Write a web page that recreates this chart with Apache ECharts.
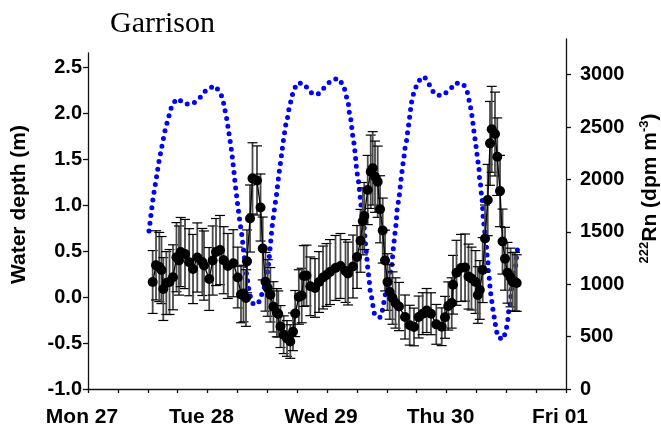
<!DOCTYPE html>
<html>
<head>
<meta charset="utf-8">
<script src="https://cdn.jsdelivr.net/npm/echarts@6/dist/echarts.min.js"></script>
<style>html,body{margin:0;padding:0;background:#fff;}#chart{width:661px;height:434px;}</style>
</head>
<body>
<div id="chart"></div>
<script>
// X axis: hours since Mon 27 00:00
const dayLabels = ['Mon 27', 'Tue 28', 'Wed 29', 'Thu 30', 'Fri 01'];
const dayHours = [0, 24, 48, 72, 96];

// Water depth (m), blue dotted line
const depthHours = [12.25,12.65,13.1,13.66,14.2,14.8,15.5,16.4,16.93,18.0,19.5,21.0,22.5,23.84,25.45,26.65,27.2,27.86,28.4,28.86,29.26,29.6,30.0,30.45,30.93,31.33,31.73,32.0,32.2,32.6,33.2,34.2,34.9,35.55,35.95,36.35,36.65,36.96,37.2,37.42,37.9,38.3,38.76,39.2,39.7,40.1,40.37,40.83,41.23,42.04,43.44,44.59,46.05,47.46,48.86,50.35,51.4,51.8,52.28,52.48,52.82,53.1,53.48,53.68,53.97,54.29,54.63,54.83,55.3,55.5,55.77,55.97,56.1,56.5,56.64,56.98,57.24,57.58,58.7,59.19,59.5,59.85,60.3,60.65,61.0,61.3,61.56,61.86,62.12,62.46,62.8,63.2,63.47,63.67,64.0,64.2,64.47,64.67,64.87,65.13,65.68,66.34,67.54,68.69,69.55,71.04,72.57,73.85,75.38,76.18,76.58,76.92,77.18,77.38,77.59,77.87,78.07,78.27,78.53,78.6,78.87,79.0,79.23,79.27,79.39,79.6,79.8,80.0,80.08,80.34,80.4,80.6,80.74,80.94,81.2,81.4,81.74,81.94,82.4,83.4,83.95,84.3,84.4,84.76,84.9,85.1,85.42,85.76,85.96,86.1,86.42];
const depthValues = [0.72,0.90,1.09,1.27,1.46,1.63,1.82,2.00,2.10,2.16,2.10,2.10,2.17,2.26,2.30,2.22,2.12,1.94,1.75,1.58,1.39,1.21,1.03,0.84,0.66,0.47,0.29,0.20,0.11,0.01,-0.08,-0.07,0.03,0.13,0.22,0.40,0.58,0.76,0.86,0.95,1.13,1.32,1.50,1.69,1.87,1.96,2.05,2.15,2.24,2.33,2.32,2.23,2.20,2.28,2.36,2.38,2.29,2.20,2.11,2.01,1.92,1.78,1.65,1.55,1.37,1.28,1.10,1.00,0.90,0.73,0.55,0.46,0.36,0.17,0.08,-0.01,-0.10,-0.20,-0.22,-0.13,-0.03,0.06,0.15,0.24,0.33,0.52,0.65,0.79,0.98,1.07,1.25,1.43,1.53,1.62,1.71,1.80,1.90,1.99,2.08,2.17,2.26,2.35,2.40,2.30,2.21,2.19,2.25,2.33,2.32,2.23,2.13,2.04,1.95,1.86,1.77,1.67,1.58,1.49,1.40,1.31,1.21,1.12,1.03,0.94,0.85,0.75,0.66,0.57,0.48,0.38,0.29,0.20,0.11,0.01,-0.08,-0.17,-0.26,-0.35,-0.44,-0.46,-0.36,-0.27,-0.18,-0.09,0.00,0.10,0.19,0.28,0.37,0.47,0.56];

// 222Rn (dpm m-3), black circles with error bars
const rnHours = [12.99,13.66,14.32,14.76,15.12,15.73,16.37,17.07,17.77,18.28,18.62,19.48,20.33,21.09,21.95,22.96,23.3,24.34,25.04,25.71,26.51,27.25,28.08,29.18,30.07,30.73,31.23,31.73,31.93,32.54,33.04,33.94,34.65,35.09,35.65,36.09,36.63,37.24,37.92,38.22,38.66,39.3,39.97,40.63,41.17,41.61,42.34,42.92,43.34,43.88,44.65,45.59,46.39,47.2,47.9,48.6,49.71,50.71,51.72,52.22,53.22,54.03,54.73,55.19,55.49,56.18,56.78,57.18,57.64,58.18,58.65,59.19,59.65,60.15,60.6,61.16,61.76,62.46,63.67,64.61,65.47,66.42,67.22,68.02,68.89,69.95,71.04,71.7,72.36,73.05,73.31,74.01,74.92,75.72,76.42,77.02,77.83,78.29,78.69,79.27,79.74,80.28,80.74,81.08,81.74,82.2,82.75,83.25,83.75,84.25,84.86,85.3,85.76,86.1];
const rnValues = [1021,1180,1164,1135,954,1011,1021,1066,1258,1226,1307,1288,1210,1145,1255,1212,1178,1050,1226,1307,1326,1229,1174,1200,1064,902,911,868,1218,1627,2010,1990,1732,1341,1023,964,899,784,728,716,596,518,482,453,546,720,878,892,1078,1083,980,964,1021,1064,1088,1116,1155,1174,1126,1102,1169,1260,1414,1600,1651,1899,2073,2106,2026,1978,1715,1512,1226,1021,926,868,821,787,687,609,592,687,719,749,718,617,594,684,792,821,995,1109,1155,1159,1073,1054,1021,897,945,1135,1436,1803,2344,2478,2433,2217,1889,1407,1243,1109,1064,1021,1024,1011];
const rnErrors = [300,330,330,320,300,300,310,310,330,330,330,330,320,330,330,320,330,300,330,320,330,320,310,320,290,270,270,270,300,320,340,330,320,300,280,270,260,240,230,220,200,180,170,160,180,220,260,260,290,290,280,280,290,300,300,310,310,310,300,300,300,300,300,320,320,330,350,350,340,340,320,310,290,270,260,250,240,230,210,190,180,200,200,210,200,190,180,200,230,240,280,310,320,320,310,300,300,270,280,310,320,340,400,410,400,370,340,310,300,290,280,280,280,270];

const depthData = depthHours.map((h, i) => [h, depthValues[i]]);
const rnData = rnHours.map((h, i) => [h, rnValues[i]]);
const errData = rnHours.map((h, i) => [h, rnValues[i], rnErrors[i]]);

const FONT = 'Liberation Sans, Arial, sans-serif';
const chart = echarts.init(document.getElementById('chart'), null, {renderer: 'canvas'});

const axisLineStyle = {color: '#111', width: 1.3};

chart.setOption({
  animation: false,
  backgroundColor: '#fff',
  title: {
    text: 'Garrison', left: 105, top: 4,
    textStyle: {fontFamily: 'Liberation Serif, Times New Roman, serif', fontSize: 30, fontWeight: 'normal', color: '#000'}
  },
  grid: [
    {left: 88, right: 95, top: 53, bottom: 45, containLabel: false, outerBoundsMode: 'none'},
    {left: 88, right: 95, top: 39, bottom: 45, containLabel: false, outerBoundsMode: 'none'}
  ],
  xAxis: [
    {
      type: 'value', gridIndex: 0, min: 0, max: 96, interval: 6,
      axisLine: {show: true, onZero: false, lineStyle: axisLineStyle},
      axisTick: {show: true, inside: false, length: 4, lineStyle: axisLineStyle},
      splitLine: {show: false},
      axisLabel: {
        customValues: dayHours, margin: 18,
        fontFamily: FONT, fontWeight: 'bold', fontSize: 21, color: '#000',
        padding: [0, 12, 0, 0],
        formatter: v => dayLabels[dayHours.indexOf(v)] || ''
      }
    },
    {
      type: 'value', gridIndex: 1, min: 0, max: 96, show: false
    }
  ],
  yAxis: [
    {
      type: 'value', gridIndex: 0, position: 'left', min: -1, max: 2.656, interval: 0.5,
      axisLine: {show: true, onZero: false, lineStyle: axisLineStyle},
      axisTick: {show: true, inside: false, length: 5, lineStyle: axisLineStyle},
      minorTick: {show: false},
      splitLine: {show: false},
      axisLabel: {
        showMaxLabel: false, margin: 6, align: 'right',
        fontFamily: FONT, fontWeight: 'bold', fontSize: 20, color: '#000',
        formatter: v => v.toFixed(1)
      },
      name: 'Water depth (m)', nameLocation: 'middle', nameGap: 58, nameRotate: 90,
      nameTextStyle: {fontFamily: FONT, fontWeight: 'bold', fontSize: 21, color: '#000', padding: [0, 0, 0, 33]}
    },
    {
      type: 'value', gridIndex: 1, position: 'right', min: 0, max: 3340, interval: 500,
      axisLine: {show: true, onZero: false, lineStyle: axisLineStyle},
      axisTick: {show: true, inside: false, length: 5, lineStyle: axisLineStyle},
      minorTick: {show: false},
      splitLine: {show: false},
      axisLabel: {
        showMaxLabel: false, margin: 14, align: 'left',
        formatter: v => '{a|' + v + '}',
        rich: {
          a: {fontFamily: FONT, fontWeight: 'bold', fontSize: 20, color: '#000', width: 46, align: 'left'}
        }
      },
      name: '{sup|222}{main|Rn (dpm m}{sup|-3}{main|)}', nameLocation: 'middle', nameGap: 72, nameRotate: 90,
      nameTextStyle: {
        padding: [0, 0, 0, 51],
        rich: {
          main: {fontFamily: FONT, fontWeight: 'bold', fontSize: 21, color: '#000', lineHeight: 24},
          sup: {fontFamily: FONT, fontWeight: 'bold', fontSize: 13, color: '#000', verticalAlign: 'top', lineHeight: 24}
        }
      }
    }
  ],
  series: [
    {
      type: 'line', xAxisIndex: 0, yAxisIndex: 0, data: depthData,
      showSymbol: false, symbol: 'none', z: 1,
      lineStyle: {color: '#0000ff', width: 5, type: [0, 7.8], cap: 'round', join: 'round'}
    },
    {
      type: 'custom', xAxisIndex: 1, yAxisIndex: 1, data: errData, z: 2,
      renderItem: function (params, api) {
        const x = api.value(0), v = api.value(1), e = api.value(2);
        const top = api.coord([x, v + e]);
        const bot = api.coord([x, v - e]);
        const hw = 5;
        return {
          type: 'group',
          children: [
            {type: 'line', shape: {x1: top[0], y1: top[1], x2: bot[0], y2: bot[1]}, style: {stroke: '#4a4a4a', lineWidth: 1.8}},
            {type: 'line', shape: {x1: top[0] - hw, y1: top[1], x2: top[0] + hw, y2: top[1]}, style: {stroke: '#000', lineWidth: 1.2}},
            {type: 'line', shape: {x1: bot[0] - hw, y1: bot[1], x2: bot[0] + hw, y2: bot[1]}, style: {stroke: '#000', lineWidth: 1.2}}
          ]
        };
      }
    },
    {
      type: 'line', xAxisIndex: 1, yAxisIndex: 1, data: rnData, z: 3,
      symbol: 'circle', symbolSize: 10, showAllSymbol: true,
      itemStyle: {color: '#000'},
      lineStyle: {color: '#000', width: 1.3}
    }
  ]
});
</script>
</body>
</html>
